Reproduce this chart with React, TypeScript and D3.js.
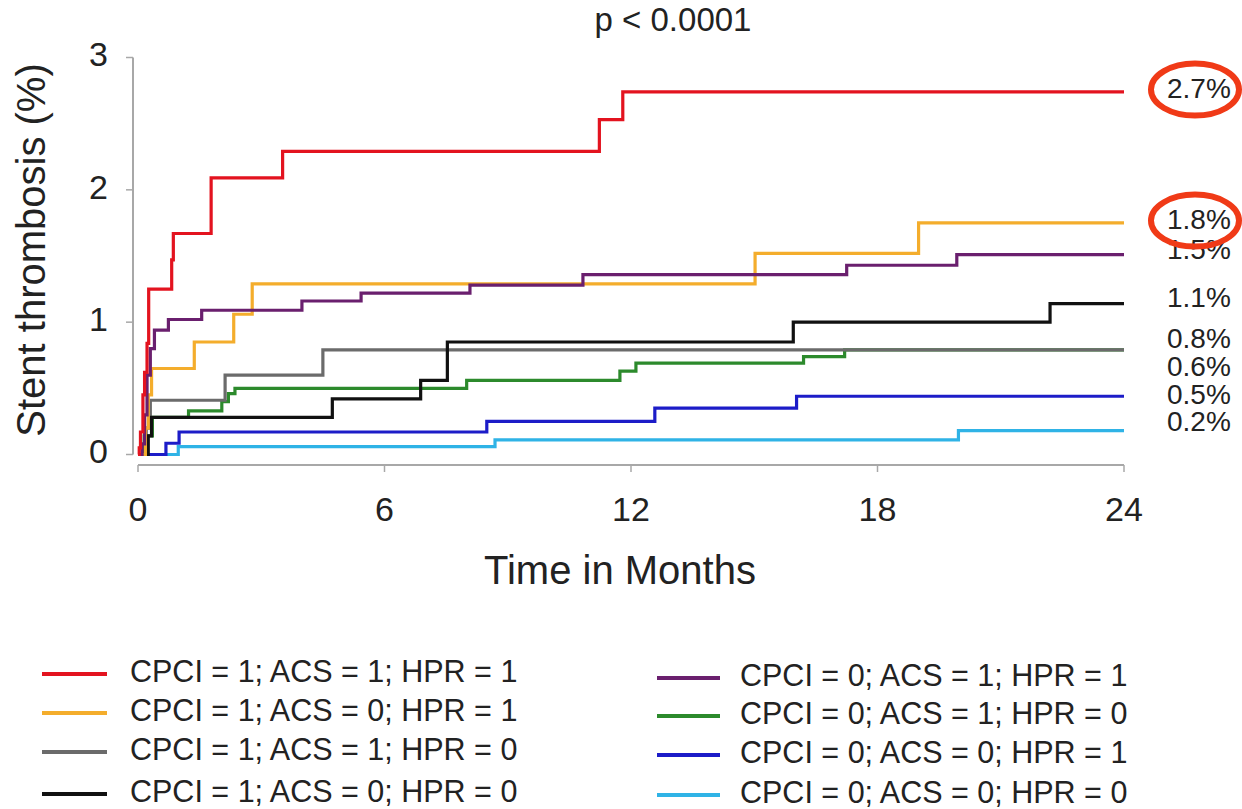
import React from "react";
import * as d3 from "d3";

// ---- data ----
const xTicks = [0, 6, 12, 18, 24];
const yTicks = [0, 1, 2, 3];

const seriesNames = [
  "CPCI = 1; ACS = 1; HPR = 1",
  "CPCI = 1; ACS = 0; HPR = 1",
  "CPCI = 1; ACS = 1; HPR = 0",
  "CPCI = 1; ACS = 0; HPR = 0",
  "CPCI = 0; ACS = 1; HPR = 1",
  "CPCI = 0; ACS = 1; HPR = 0",
  "CPCI = 0; ACS = 0; HPR = 1",
  "CPCI = 0; ACS = 0; HPR = 0",
];
const seriesColors = ["#e3131f", "#f4ad2c", "#6b6b6b", "#111111", "#6a1f6e", "#2c8a2c", "#1c1cc8", "#2fb3e6"];

const redT = [0, 0.03, 0.06, 0.12, 0.16, 0.22, 0.26, 0.82, 0.86, 1.78, 3.52, 11.23, 11.8, 24];
const redV = [0, 0.05, 0.17, 0.45, 0.62, 0.84, 1.25, 1.47, 1.67, 2.09, 2.29, 2.53, 2.74, 2.74];
const orangeT = [0, 0.18, 0.25, 0.33, 1.37, 2.33, 2.78, 15.02, 19.0, 24];
const orangeV = [0, 0.2, 0.45, 0.65, 0.85, 1.06, 1.29, 1.52, 1.75, 1.75];
const grayT = [0, 0.2, 0.3, 2.12, 4.5, 24];
const grayV = [0, 0.2, 0.41, 0.6, 0.79, 0.79];
const blackT = [0, 0.25, 0.33, 4.73, 6.88, 7.53, 15.95, 22.2, 24];
const blackV = [0, 0.14, 0.28, 0.42, 0.56, 0.85, 1.0, 1.14, 1.14];
const purpleT = [0, 0.1, 0.16, 0.22, 0.3, 0.4, 0.74, 1.55, 3.99, 5.43, 8.08, 10.83, 17.25, 19.93, 24];
const purpleV = [0, 0.08, 0.3, 0.6, 0.8, 0.94, 1.02, 1.09, 1.16, 1.22, 1.28, 1.36, 1.43, 1.51, 1.51];
const greenT = [0, 0.15, 0.35, 1.23, 2.04, 2.2, 2.36, 8.0, 11.73, 12.12, 16.2, 17.2, 24];
const greenV = [0, 0.14, 0.28, 0.33, 0.4, 0.46, 0.5, 0.56, 0.63, 0.69, 0.74, 0.79, 0.79];
const blueT = [0, 0.68, 1.0, 8.49, 12.58, 16.03, 24];
const blueV = [0, 0.085, 0.17, 0.25, 0.35, 0.44, 0.44];
const cyanT = [0, 0.98, 8.69, 19.97, 24];
const cyanV = [0, 0.06, 0.11, 0.18, 0.18];

const endLabels = ["2.7%", "1.8%", "1.5%", "1.1%", "0.8%", "0.6%", "0.5%", "0.2%"];
const endLabelY = [2.75, 1.76, 1.53, 1.17, 0.86, 0.65, 0.44, 0.23];
const circledLabels = ["2.7%", "1.8%"];

const titleText = "p < 0.0001";
const xTitle = "Time in Months";
const yTitle = "Stent thrombosis (%)";

// ---- layout ----
const W = 1242;
const H = 809;
const FONT = "'Liberation Sans', Arial, sans-serif";

export default function App() {
  const x = d3.scaleLinear().domain([0, 24]).range([138, 1124]);
  const y = d3.scaleLinear().domain([0, 3]).range([454.5, 57.5]);
  const line = d3
    .line<[number, number]>()
    .x((d) => x(d[0]))
    .y((d) => y(d[1]))
    .curve(d3.curveStepAfter);

  const allT = [redT, orangeT, grayT, blackT, purpleT, greenT, blueT, cyanT];
  const allV = [redV, orangeV, grayV, blackV, purpleV, greenV, blueV, cyanV];
  const drawOrder = [7, 6, 5, 2, 3, 1, 4, 0];

  const axisColor = "#a8a8a8";
  const axisY = 465;
  const axisX = 133;

  const legendLeft = { lineX0: 42, lineX1: 107, textX: 130, rows: [674, 713, 752, 794] };
  const legendRight = { lineX0: 657, lineX1: 720, textX: 740, rows: [678, 716, 755, 795] };

  return (
    <svg
      width={W}
      height={H}
      style={{ position: "absolute", left: 0, top: 0, background: "#fff" }}
      fontFamily={FONT}
    >
      <rect x={0} y={0} width={W} height={H} fill="#fff" />
      {/* title */}
      <text x={673} y={22} fontSize={33} textAnchor="middle" dominantBaseline="middle" fill="#222">
        {titleText}
      </text>

      {/* y axis */}
      <line x1={axisX} x2={axisX} y1={y(3)} y2={y(0)} stroke={axisColor} strokeWidth={2} />
      {yTicks.map((t) => (
        <g key={"yt" + t}>
          <line x1={axisX - 7} x2={axisX} y1={y(t)} y2={y(t)} stroke={axisColor} strokeWidth={1.5} />
          <text x={108} y={y(t)} fontSize={34} textAnchor="end" dominantBaseline="middle" fill="#222">
            {t}
          </text>
        </g>
      ))}
      <text
        transform={`translate(34,${250}) rotate(-90)`}
        fontSize={40}
        textAnchor="middle"
        dominantBaseline="middle"
        fill="#222"
      >
        {yTitle}
      </text>

      {/* x axis */}
      <line x1={x(0)} x2={x(24)} y1={axisY} y2={axisY} stroke={axisColor} strokeWidth={2} />
      {xTicks.map((t) => (
        <g key={"xt" + t}>
          <line x1={x(t)} x2={x(t)} y1={axisY} y2={axisY + 7} stroke={axisColor} strokeWidth={1.5} />
          <text x={x(t)} y={512} fontSize={34} textAnchor="middle" dominantBaseline="middle" fill="#222">
            {t}
          </text>
        </g>
      ))}
      <text x={620} y={573} fontSize={40} textAnchor="middle" dominantBaseline="middle" fill="#222">
        {xTitle}
      </text>

      {/* curves */}
      {drawOrder.map((i) => {
        const pts: [number, number][] = allT[i].map((t, k) => [t, allV[i][k]]);
        return (
          <path
            key={"s" + i}
            d={line(pts) || ""}
            fill="none"
            stroke={seriesColors[i]}
            strokeWidth={3.2}
            strokeLinejoin="miter"
          />
        );
      })}

      {/* end labels */}
      {endLabels.map((lab, i) => (
        <text
          key={"el" + i}
          x={1167}
          y={y(endLabelY[i])}
          fontSize={28}
          dominantBaseline="middle"
          fill="#222"
        >
          {lab}
        </text>
      ))}
      {endLabels.map((lab, i) =>
        circledLabels.includes(lab) ? (
          <ellipse
            key={"ce" + i}
            cx={1195}
            cy={y(endLabelY[i]) - 1}
            rx={44}
            ry={26}
            fill="none"
            stroke="#f03a17"
            strokeWidth={6}
          />
        ) : null
      )}

      {/* legend */}
      {[legendLeft, legendRight].map((col, c) =>
        col.rows.map((ry, r) => {
          const i = c * 4 + r;
          return (
            <g key={"lg" + i}>
              <line x1={col.lineX0} x2={col.lineX1} y1={ry} y2={ry} stroke={seriesColors[i]} strokeWidth={4} />
              <text x={col.textX} y={ry} fontSize={30.5} dominantBaseline="middle" fill="#222">
                {seriesNames[i]}
              </text>
            </g>
          );
        })
      )}
    </svg>
  );
}
